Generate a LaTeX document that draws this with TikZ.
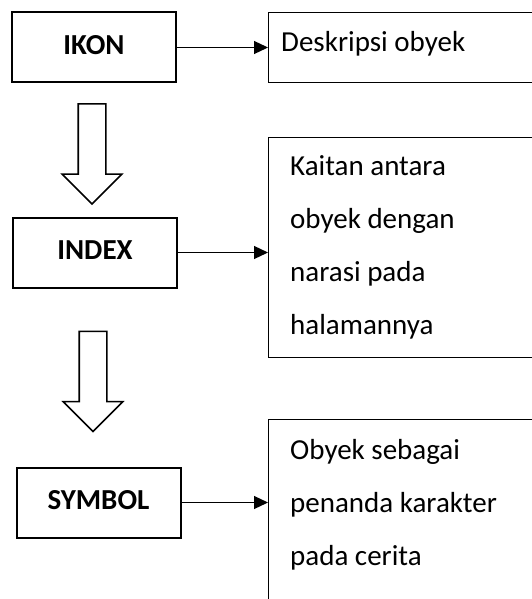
\documentclass[tikz,border=0pt]{standalone}
\usepackage{fontspec}
\setmainfont{Carlito}
\usetikzlibrary{arrows.meta, positioning, shapes.arrows}

\begin{document}
\begin{tikzpicture}[x=1pt, y=-1pt, >={Triangle[length=14pt, width=13pt]},
    sign/.style={draw, line width=2pt, minimum width=164pt, minimum height=70pt,
        text depth=5pt, font=\fontsize{29}{33}\selectfont\bfseries},
    meaning/.style={draw, line width=1.2pt, minimum width=292pt, anchor=north west},
    note/.style={anchor=base west, inner sep=0pt, text width=240pt, align=flush left,
        font=\fontsize{29}{53.3}\selectfont},
    flow/.style={single arrow, draw, line width=1.6pt, shape border rotate=270,
        minimum height=100pt, minimum width=58pt, single arrow head extend=16pt, inner sep=13pt}]
    \useasboundingbox (0,0) rectangle (531,599);

    % Left column
    \node[sign] (ikon) at (94,47.5) {IKON};
    \node[sign] (index) at (95,252.5) {INDEX};
    \node[sign] (symbol) at (98.5,502.5) {SYMBOL};

    % Hollow arrows between the levels
    \node[flow] (flow1) at (92,147) {};
    \node[flow] (flow2) at (93,374.5) {};

    % Right column
    \node[meaning, minimum height=70pt] (desc) at (268,12) {};
    \node[meaning, minimum height=220pt] (link) at (268,137) {};
    \node[meaning, minimum height=220pt] (role) at (268,419) {};

    \node[note] (desctext) at (281,52) {Deskripsi obyek};
    \node[note] (linktext) at (290,175) {Kaitan antara\\obyek dengan\\narasi pada\\halamannya};
    \node[note] (roletext) at (290,459) {Obyek sebagai\\penanda karakter\\pada cerita};

    % Connectors
    \draw[->, line width=1.2pt] (ikon) -- (ikon -| desc.west);
    \draw[->, line width=1.2pt] (index) -- (index -| link.west);
    \draw[->, line width=1.2pt] (symbol) -- (symbol -| role.west);
\end{tikzpicture}
\end{document}
